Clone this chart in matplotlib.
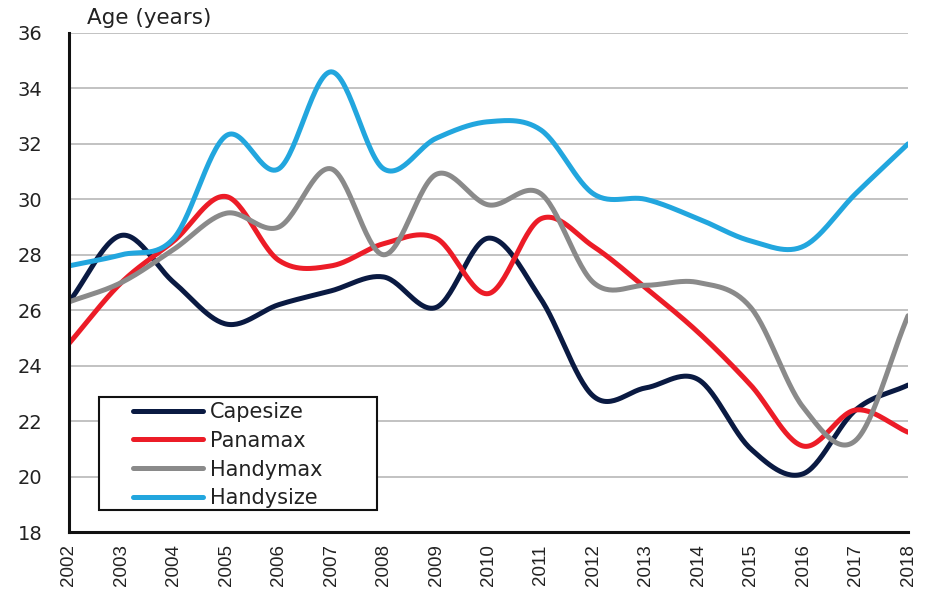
import numpy as np
import matplotlib
matplotlib.use("Agg")
import matplotlib.pyplot as plt
from matplotlib.patches import Rectangle

plt.rcParams['font.family'] = ['DejaVu Sans']

years = list(range(2002, 2019))
capesize = [26.3, 28.7, 27.0, 25.5, 26.2, 26.7, 27.2, 26.1, 28.6, 26.4, 22.9, 23.2, 23.5, 21.0, 20.1, 22.4, 23.3]
panamax = [24.8, 27.0, 28.5, 30.1, 27.8, 27.6, 28.4, 28.6, 26.6, 29.3, 28.3, 26.8, 25.2, 23.3, 21.1, 22.4, 21.6]
handymax = [26.3, 27.0, 28.2, 29.5, 29.0, 31.1, 28.0, 30.9, 29.8, 30.2, 27.0, 26.9, 27.0, 26.1, 22.5, 21.3, 25.8]
handysize = [27.6, 28.0, 28.6, 32.3, 31.1, 34.6, 31.1, 32.2, 32.8, 32.5, 30.2, 30.0, 29.3, 28.5, 28.3, 30.2, 32.0]

series = [("Capesize", capesize, "#0a1a42"),
          ("Panamax", panamax, "#ec1c27"),
          ("Handymax", handymax, "#8a8a8a"),
          ("Handysize", handysize, "#22a6de")]


def smooth(x, y, n=30):
    x = np.asarray(x, float)
    y = np.asarray(y, float)
    px = np.concatenate([[2 * x[0] - x[1]], x, [2 * x[-1] - x[-2]]])
    py = np.concatenate([[2 * y[0] - y[1]], y, [2 * y[-1] - y[-2]]])
    xs, ys = [], []
    for i in range(1, len(px) - 2):
        t = np.linspace(0, 1, n, endpoint=(i == len(px) - 3))
        def cr(a, b, c, d):
            return 0.5 * ((2 * b) + (-a + c) * t + (2 * a - 5 * b + 4 * c - d) * t ** 2 + (-a + 3 * b - 3 * c + d) * t ** 3)
        xs.append(cr(px[i - 1], px[i], px[i + 1], px[i + 2]))
        ys.append(cr(py[i - 1], py[i], py[i + 1], py[i + 2]))
    return np.concatenate(xs), np.concatenate(ys)


W, H = 932, 593
fig = plt.figure(figsize=(W / 100, H / 100), dpi=100)
ax_l, ax_r, ax_t, ax_b = 69, 908, 33, 532
ax = fig.add_axes([ax_l / W, 1 - ax_b / H, (ax_r - ax_l) / W, (ax_b - ax_t) / H])

for name, vals, col in series:
    sx, sy = smooth(years, vals)
    ax.plot(sx, sy, color=col, lw=3.6, label=name, solid_capstyle='round', zorder=3)

ax.set_xlim(2002, 2018)
ax.set_ylim(18, 36)
ax.set_yticks(range(18, 37, 2))
ax.set_xticks(years)
ax.set_xticklabels([str(y) for y in years], rotation=90, family=['Liberation Sans', 'DejaVu Sans'])
ax.tick_params(axis='both', length=0, colors='#222222')
ax.tick_params(axis='y', pad=19, labelsize=14)
ax.tick_params(axis='x', pad=9, labelsize=13.5)
ax.yaxis.grid(True, color='#bdbdbd', lw=1.3)
ax.set_axisbelow(True)
for s in ['top', 'right']:
    ax.spines[s].set_visible(False)
for s in ['left', 'bottom']:
    ax.spines[s].set_linewidth(2.2)
    ax.spines[s].set_color('#111111')
    ax.spines[s].set_zorder(4)

fig.text(87 / W, 1 - 18 / H, "Age (years)", fontsize=15.5, color='#222222', ha='left', va='center')

# legend frame
aw, ah = ax_r - ax_l, ax_b - ax_t
box = Rectangle(((99 - ax_l) / aw, (ax_b - 510) / ah), (377 - 99) / aw, (510 - 397) / ah,
                transform=ax.transAxes, facecolor='white', edgecolor='#111111', lw=1.5, zorder=5)
ax.add_patch(box)

fs = 15
fpx = fs * 100 / 72
leg = ax.legend(loc='upper left', bbox_to_anchor=((133 - ax_l) / aw, (ax_b - 402) / ah), fontsize=fs,
                frameon=False, handlelength=70 / fpx, handletextpad=7 / fpx,
                labelspacing=0.42, borderpad=0, borderaxespad=0)
leg.set_zorder(6)
for t in leg.get_texts():
    t.set_color('#222222')

fig.savefig("out.png", dpi=100)
